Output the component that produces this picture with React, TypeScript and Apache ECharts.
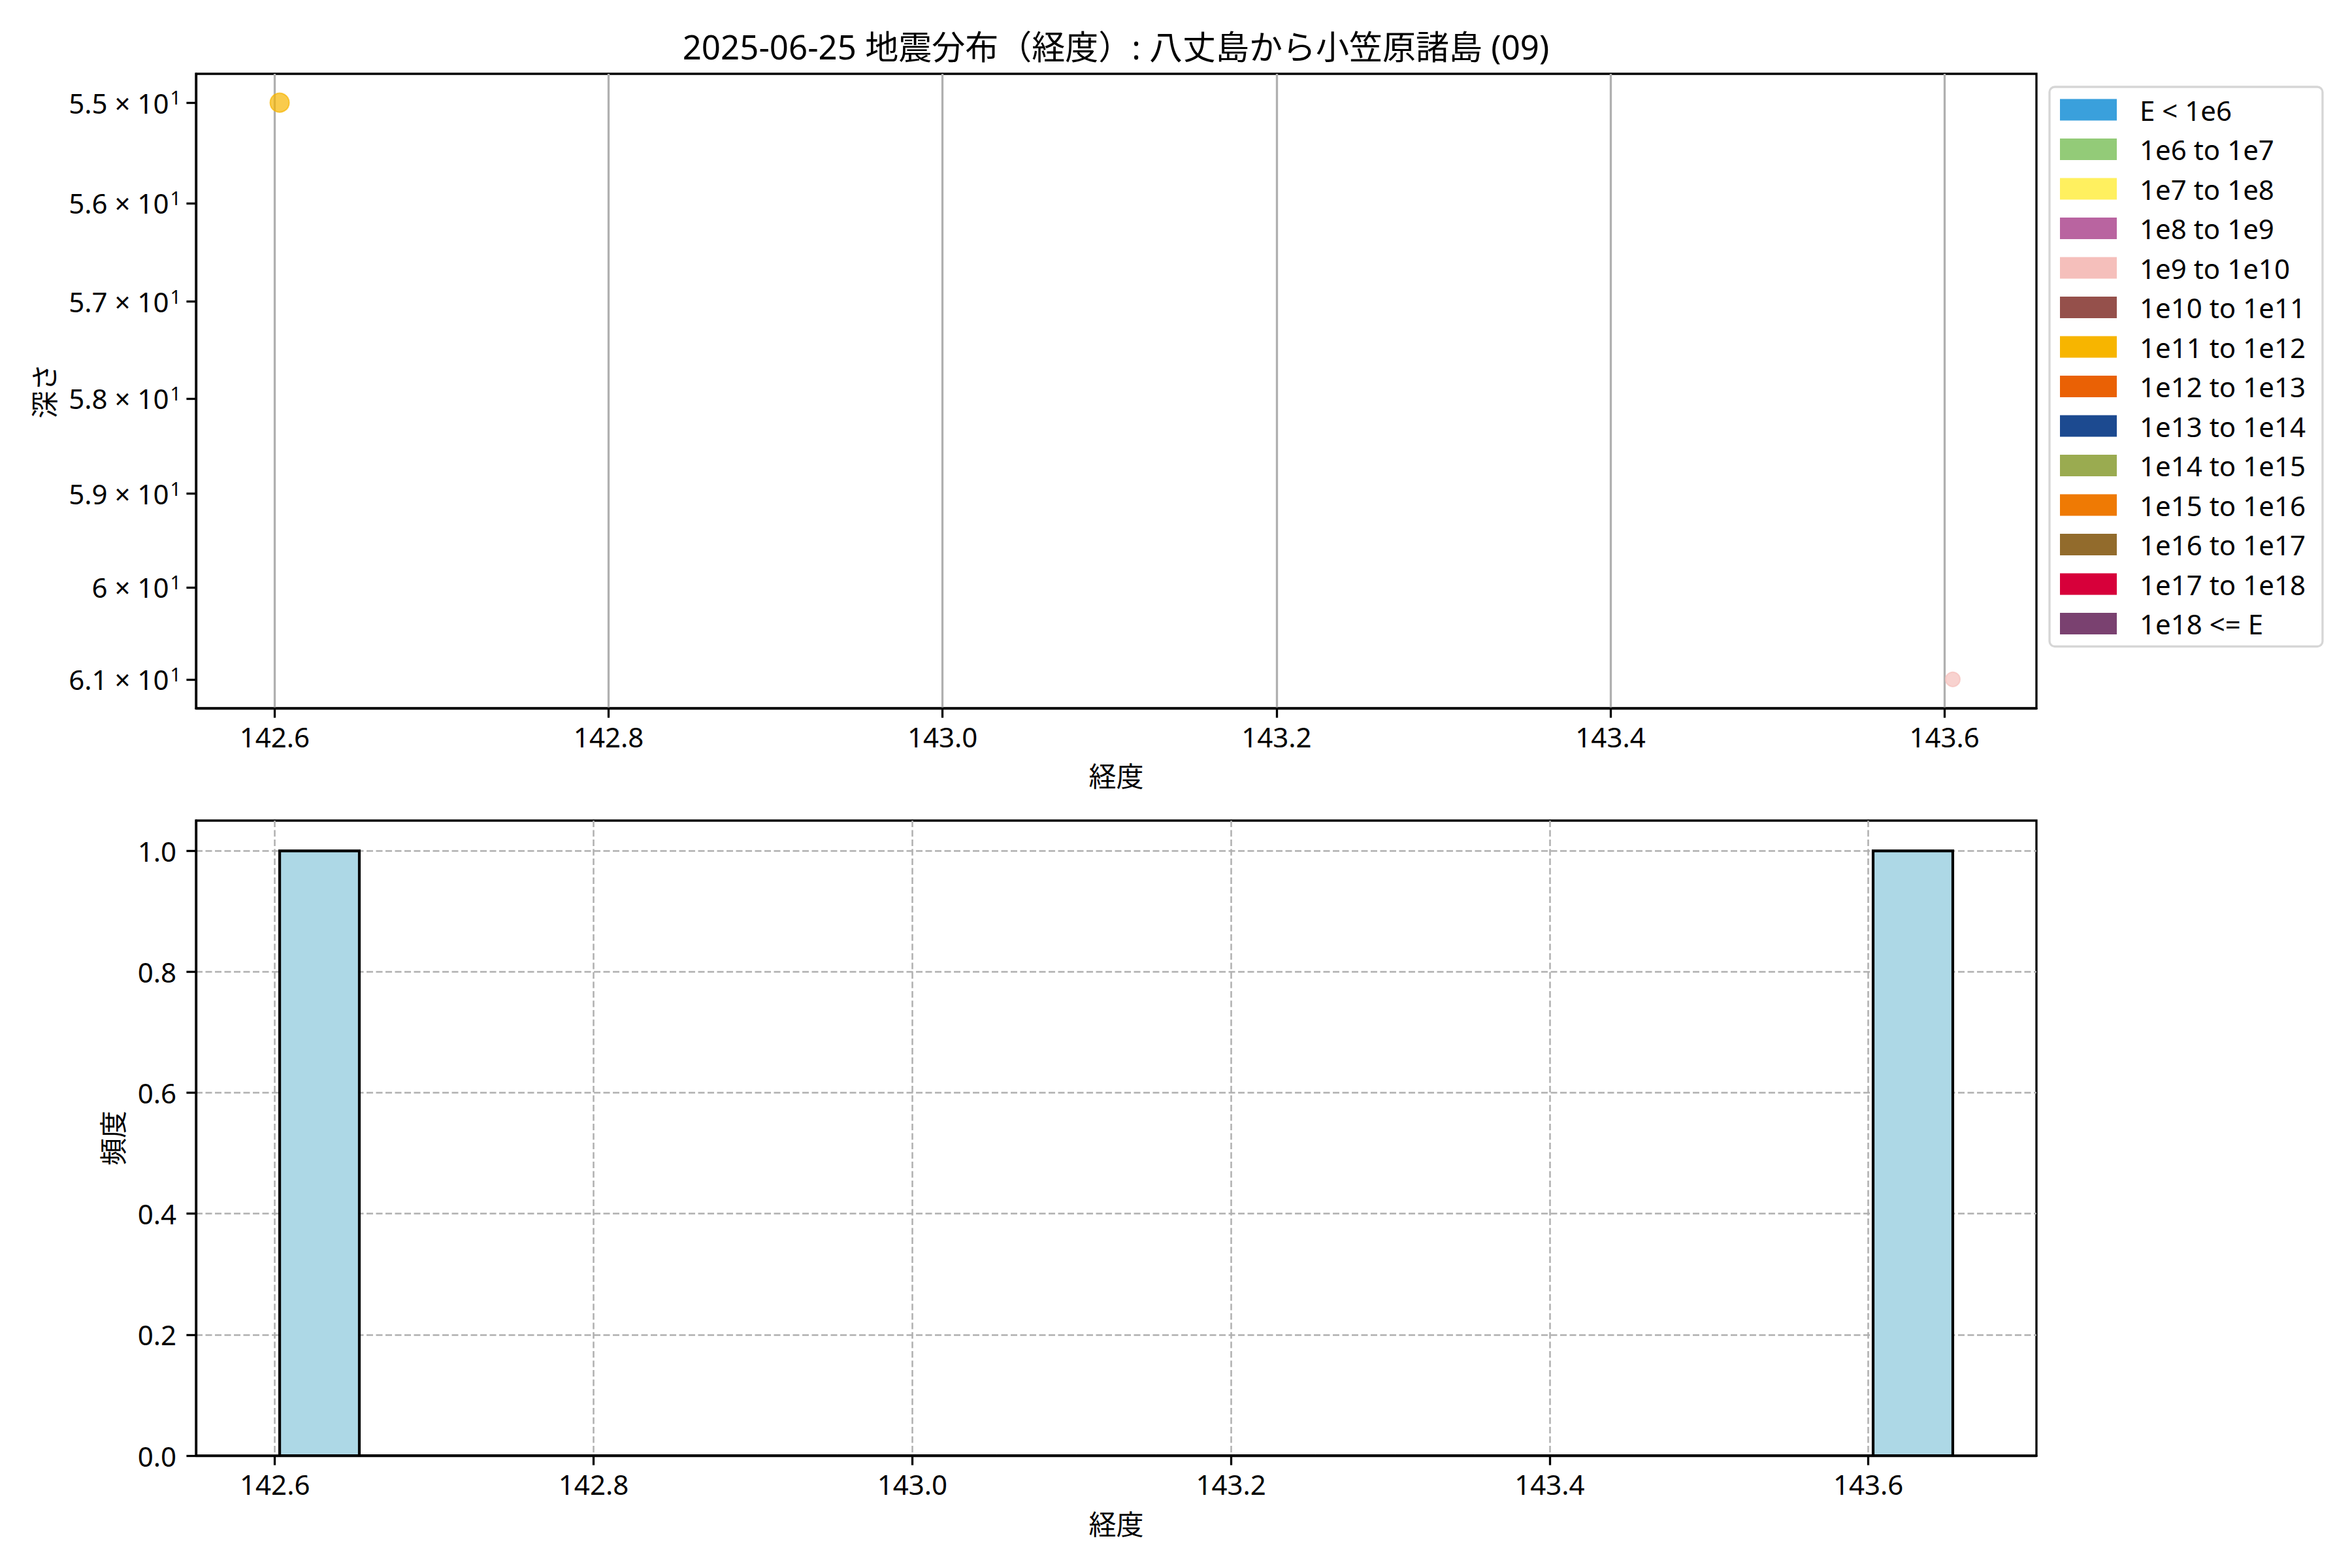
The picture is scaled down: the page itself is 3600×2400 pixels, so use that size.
import React, { useEffect, useRef } from "react";
import * as echarts from "echarts";

const TITLE = "2025-06-25 地震分布（経度）: 八丈島から小笠原諸島 (09)";

const energyClasses = [
  "E < 1e6",
  "1e6 to 1e7",
  "1e7 to 1e8",
  "1e8 to 1e9",
  "1e9 to 1e10",
  "1e10 to 1e11",
  "1e11 to 1e12",
  "1e12 to 1e13",
  "1e13 to 1e14",
  "1e14 to 1e15",
  "1e15 to 1e16",
  "1e16 to 1e17",
  "1e17 to 1e18",
  "1e18 <= E",
];
const classColors = [
  "#3aa0dc",
  "#93cb78",
  "#fff05f",
  "#b964a0",
  "#f5bfbb",
  "#95504b",
  "#f7b500",
  "#ea6105",
  "#1c4a90",
  "#9aab50",
  "#ef7a04",
  "#926b2c",
  "#d7003a",
  "#7a4170",
];

// earthquakes
const quakeLon = [142.603, 143.605];
const quakeDepth = [55, 61];
const quakeClass = ["1e11 to 1e12", "1e9 to 1e10"];
const quakeMarker = [29, 22];

// histogram: bins of width 0.05 starting at the smallest longitude
const histBinWidth = 0.05;
const histCounts = [1, 0, 0, 0, 0, 0, 0, 0, 0, 0, 0, 0, 0, 0, 0, 0, 0, 0, 0, 0, 1];

const lonTicks = [142.6, 142.8, 143.0, 143.2, 143.4, 143.6];
const depthTicks = [55, 56, 57, 58, 59, 60, 61];
const freqTicks = [0, 0.2, 0.4, 0.6, 0.8, 1.0];

const FONT = '"Noto Sans", "Noto Sans CJK JP", sans-serif';

export default function App() {
  const ref = useRef<HTMLDivElement>(null);

  useEffect(() => {
    document.body.style.margin = "0";
    const chart = echarts.init(ref.current!, null, { renderer: "svg" });

    const lonMin = Math.min(...quakeLon);
    const lonMax = Math.max(...quakeLon);
    const lonRange = lonMax - lonMin;
    const xMin0 = lonMin - 0.05 * lonRange;
    const xMax0 = lonMax + 0.05 * lonRange;

    const nb = histCounts.length;
    const histData = histCounts.map((c, i) => [lonMin + i * histBinWidth, lonMin + (i + 1) * histBinWidth, c]);
    const hLo = lonMin;
    const hHi = lonMin + nb * histBinWidth;
    const hR = hHi - hLo;
    const xMin1 = hLo - 0.05 * hR;
    const xMax1 = hHi + 0.05 * hR;
    const hMax = Math.max(...histCounts) * 1.05;

    const lgMin = Math.log10(Math.min(...quakeDepth));
    const lgMax = Math.log10(Math.max(...quakeDepth));
    const lgR = lgMax - lgMin;
    const yMin = Math.pow(10, lgMin - 0.05 * lgR);
    const yMax = Math.pow(10, lgMax + 0.05 * lgR);

    const grids = [
      { left: 300, top: 113, width: 2817, height: 971 },
      { left: 300, top: 1256, width: 2817, height: 972 },
    ].map((g) => ({ ...g, show: true, borderColor: "#000", borderWidth: 3.3, backgroundColor: "transparent" }));

    const txt = { color: "#000", fontSize: 42, fontFamily: FONT };

    const xAxisBase = (i: number, dashed: boolean, mn: number, mx: number) => ({
      type: "value",
      gridIndex: i,
      min: mn,
      max: mx,
      name: "経度",
      nameLocation: "middle",
      nameGap: i === 0 ? 82 : 83,
      nameTextStyle: { ...txt },
      axisLine: { show: true, onZero: false, lineStyle: { color: "#000", width: 3.3 } },
      axisTick: { show: true, length: 14.6, customValues: lonTicks, lineStyle: { color: "#000", width: 3.3 } },
      axisLabel: {
        ...txt,
        customValues: lonTicks,
        margin: 22,
        formatter: (v: number) => v.toFixed(1),
      },
      splitLine: {
        show: true,
        lineStyle: dashed
          ? { color: "#b0b0b0", width: 2.5, type: [10, 4.5] }
          : { color: "#b0b0b0", width: 3.3 },
      },
    });

    const scatterSeries = energyClasses.map((cls, ci) => {
      const data: any[] = [];
      quakeLon.forEach((lon, k) => {
        if (quakeClass[k] === cls) data.push({ value: [lon, quakeDepth[k]], symbolSize: quakeMarker[k] });
      });
      return {
        name: cls,
        type: "scatter",
        xAxisIndex: 0,
        yAxisIndex: 0,
        data,
        itemStyle: { color: classColors[ci], opacity: 0.7, borderColor: classColors[ci], borderWidth: 2 },
        z: 5,
      };
    });

    const option: any = {
      animation: false,
      backgroundColor: "#fff",
      textStyle: { fontFamily: FONT },
      grid: grids,
      xAxis: [xAxisBase(0, false, xMin0, xMax0), xAxisBase(1, true, xMin1, xMax1)],
      yAxis: [
        {
          type: "log",
          gridIndex: 0,
          inverse: true,
          min: yMin,
          max: yMax,
          name: "深さ",
          nameLocation: "middle",
          nameGap: 212,
          nameRotate: 90,
          nameTextStyle: { ...txt },
          axisLine: { show: true, lineStyle: { color: "#000", width: 3.3 } },
          axisTick: { show: true, length: 14.6, customValues: depthTicks, lineStyle: { color: "#000", width: 3.3 } },
          axisLabel: {
            customValues: depthTicks,
            margin: 23,
            formatter: (v: number) => {
              const m = Number((v / 10).toFixed(1)).toString();
              return `{m|${m} × 10}{s|1}`;
            },
            rich: {
              m: { ...txt, fontSize: 42, lineHeight: 46 },
              s: { ...txt, fontSize: 29, lineHeight: 46, verticalAlign: "top", padding: [0, 0, 18, 2] },
            },
          },
          splitLine: { show: false },
          minorTick: { show: false },
        },
        {
          type: "value",
          gridIndex: 1,
          min: 0,
          max: hMax,
          name: "頻度",
          nameLocation: "middle",
          nameGap: 107,
          nameRotate: 90,
          nameTextStyle: { ...txt },
          axisLine: { show: true, lineStyle: { color: "#000", width: 3.3 } },
          axisTick: { show: true, length: 14.6, customValues: freqTicks, lineStyle: { color: "#000", width: 3.3 } },
          axisLabel: { ...txt, customValues: freqTicks, margin: 30, formatter: (v: number) => v.toFixed(1) },
          splitLine: { show: true, lineStyle: { color: "#b0b0b0", width: 2.5, type: [10, 4.5] } },
        },
      ],
      legend: {
        orient: "vertical",
        left: 3137,
        top: 133,
        padding: [14, 26, 14, 16],
        borderColor: "#d6d6d6",
        borderWidth: 3.3,
        borderRadius: 8,
        backgroundColor: "#fff",
        itemWidth: 87,
        itemHeight: 33,
        itemGap: 18.5,
        icon: "rect",
        textStyle: { ...txt, padding: [0, 0, 0, 30] },
        data: energyClasses.map((c, i) => ({ name: c, icon: "rect", itemStyle: { color: classColors[i], opacity: 1, borderWidth: 0 } })),
      },
      graphic: [
        {
          type: "text",
          x: 1708,
          y: 71,
          style: {
            text: TITLE,
            fill: "#000",
            font: `51px ${FONT}`,
            textAlign: "center",
            textVerticalAlign: "middle",
          },
        },
      ],
      series: [
        ...scatterSeries,
        {
          name: "hist",
          type: "custom",
          xAxisIndex: 1,
          yAxisIndex: 1,
          data: histData,
          clip: true,
          z: 3,
          renderItem: (params: any, api: any) => {
            const p0 = api.coord([api.value(0), api.value(2)]);
            const p1 = api.coord([api.value(1), 0]);
            return {
              type: "rect",
              shape: { x: p0[0], y: p0[1], width: p1[0] - p0[0], height: p1[1] - p0[1] },
              style: { fill: "#add8e6", stroke: "#000", lineWidth: 4.2 },
            };
          },
        },
      ],
    };

    chart.setOption(option);
    return () => chart.dispose();
  }, []);

  return <div ref={ref} style={{ width: 3600, height: 2400 }} />;
}
